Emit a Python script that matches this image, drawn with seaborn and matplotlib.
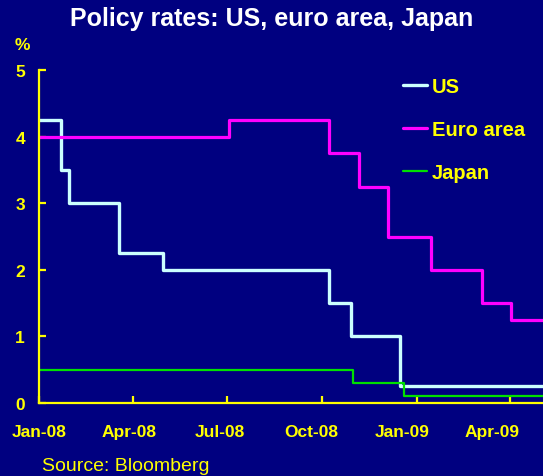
import pandas as pd
import numpy as np
import matplotlib.pyplot as plt
import matplotlib.dates as mdates
import matplotlib.transforms as mtransforms
import seaborn as sns

# Policy rate changes (step values, held until the next date)
us_dates = ['2008-01-01', '2008-01-22', '2008-01-30', '2008-03-18', '2008-04-30',
            '2008-10-08', '2008-10-29', '2008-12-16', '2009-05-03']
us_rates = [4.25, 3.5, 3.0, 2.25, 2.0, 1.5, 1.0, 0.25, 0.25]

euro_dates = ['2008-01-01', '2008-07-03', '2008-10-08', '2008-11-06', '2008-12-04',
              '2009-01-15', '2009-03-05', '2009-04-02', '2009-05-03']
euro_rates = [4.0, 4.25, 3.75, 3.25, 2.5, 2.0, 1.5, 1.25, 1.25]

japan_dates = ['2008-01-01', '2008-10-31', '2008-12-19', '2009-05-03']
japan_rates = [0.5, 0.3, 0.1, 0.1]

navy = '#000080'
yellow = '#FFFF00'

sns.set_style('ticks')
plt.rcParams['font.family'] = ['Liberation Sans', 'DejaVu Sans']

us_df = pd.DataFrame({'Date': pd.to_datetime(us_dates), 'Rate': us_rates})
euro_df = pd.DataFrame({'Date': pd.to_datetime(euro_dates), 'Rate': euro_rates})
japan_df = pd.DataFrame({'Date': pd.to_datetime(japan_dates), 'Rate': japan_rates})

fig = plt.figure(figsize=(5.43, 4.77), dpi=100, facecolor=navy)
ax = fig.add_axes([39 / 543, 1 - 404 / 477, 1 - 39 / 543, (404 - 71) / 477])
ax.set_facecolor(navy)

sns.lineplot(data=us_df, x='Date', y='Rate', ax=ax, color='#CCFFFF', linewidth=2.4,
             drawstyle='steps-post', label='US')
sns.lineplot(data=euro_df, x='Date', y='Rate', ax=ax, color='#FF00FF', linewidth=2.3,
             drawstyle='steps-post', label='Euro area')
sns.lineplot(data=japan_df, x='Date', y='Rate', ax=ax, color='#00E000', linewidth=1.6,
             drawstyle='steps-post', label='Japan')

ax.set_xlim(pd.Timestamp('2008-01-01'), pd.Timestamp('2009-05-03'))
ax.set_ylim(0, 5)
ax.set_yticks([0, 1, 2, 3, 4, 5])
ax.xaxis.set_major_locator(mdates.MonthLocator(bymonth=[1, 4, 7, 10]))
ax.xaxis.set_major_formatter(mdates.DateFormatter('%b-%y'))
ax.set_xlabel('')
ax.set_ylabel('')

for side in ['top', 'right']:
    ax.spines[side].set_visible(False)
for side in ['left', 'bottom']:
    ax.spines[side].set_color(yellow)
    ax.spines[side].set_linewidth(1.6)

ax.tick_params(axis='both', direction='in', length=4.8, width=1.6, color=yellow,
               labelcolor=yellow, labelsize=12.5)
ax.tick_params(axis='x', pad=15)
ax.tick_params(axis='y', pad=10)

# category-style axis: labels sit slightly left of their ticks
fig.canvas.draw()
for i, lab in enumerate(ax.get_xticklabels()):
    lab.set_fontweight('bold')
    shift = mtransforms.ScaledTranslation(-3.6 * i / 100, 0, fig.dpi_scale_trans)
    lab.set_transform(lab.get_transform() + shift)
for lab in ax.get_yticklabels():
    lab.set_fontweight('bold')

leg = ax.legend(loc='upper left', bbox_to_anchor=(403 / 543, 1 - 78 / 477),
                bbox_transform=fig.transFigure, frameon=False, fontsize=14.5,
                handlelength=1.2, handletextpad=0.25, labelspacing=1.2,
                borderpad=0, borderaxespad=0)
for txt in leg.get_texts():
    txt.set_color(yellow)
    txt.set_fontweight('bold')

fig.text(0.5, 1 - 19 / 477, 'Policy rates: US, euro area, Japan', ha='center', va='center',
         color='white', fontsize=18, fontweight='bold')
fig.text(22 / 543, 1 - 45 / 477, '%', ha='center', va='center', color=yellow,
         fontsize=12.5, fontweight='bold')
fig.text(42 / 543, 1 - 467 / 477, 'Source: Bloomberg', ha='left', va='center',
         color=yellow, fontsize=14)

fig.savefig('out.png', dpi=100, facecolor=navy)
